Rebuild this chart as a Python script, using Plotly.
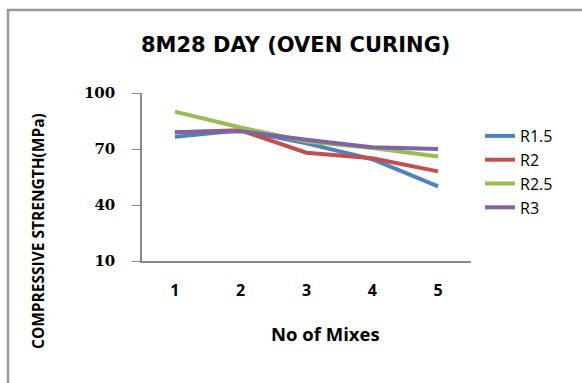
import plotly.graph_objects as go

mixes = [1, 2, 3, 4, 5]
r15 = [76.5, 80, 73, 64.5, 50]
r2 = [79, 80, 68, 65, 58]
r25 = [90, 81.5, 74, 70.5, 66]
r3 = [79, 79.5, 75, 71, 70]
series = [("R1.5", r15, "#4F81BD"), ("R2", r2, "#C0504D"),
          ("R2.5", r25, "#9BBB59"), ("R3", r3, "#8064A2")]
yticks = [10, 40, 70, 100]

fig = go.Figure()
for name, vals, col in series:
    fig.add_trace(go.Scatter(x=mixes, y=vals, name=name, mode="lines",
                             line=dict(color=col, width=4)))

W, H = 582, 383
L, R, T, B = 142, 471, 93, 261
PW, PH = R - L, B - T


def px(x):
    return (x - L) / PW


def py(y):
    return (B - y) / PH


fig.update_layout(
    width=W, height=H,
    margin=dict(l=L, r=W - R, t=T, b=H - B),
    paper_bgcolor="white", plot_bgcolor="white",
    showlegend=True,
    legend=dict(x=px(480), xanchor="left", y=py(119), yanchor="top",
                font=dict(family="Open Sans", size=16, color="#000"),
                tracegroupgap=0, itemwidth=30, bgcolor="rgba(0,0,0,0)"),
    xaxis=dict(range=[0.5, 5.5], tickvals=mixes, ticktext=[str(m) for m in mixes],
               showgrid=False, zeroline=False, showline=True, linecolor="#8a8a8a",
               linewidth=1.5, ticks="", ticklabelstandoff=14,
               tickfont=dict(family="Open Sans", size=16, color="#000", weight="bold")),
    yaxis=dict(range=[10, 100], tickvals=yticks, showgrid=False, zeroline=False,
               showline=True, linecolor="#8a8a8a", linewidth=1.5, ticks="outside",
               ticklen=8, tickcolor="#8a8a8a", ticklabelstandoff=14,
               tickfont=dict(family="DejaVu Serif", size=15, color="#000", weight="bold")),
    annotations=[
        dict(text="<b>8M28 DAY (OVEN CURING)</b>", xref="paper", yref="paper",
             x=px(295), y=py(45), xanchor="center", yanchor="middle", showarrow=False,
             font=dict(family="DejaVu Sans", size=21, color="#000")),
        dict(text="<b>No of Mixes</b>", xref="paper", yref="paper",
             x=px(325), y=py(333), xanchor="center", yanchor="middle", showarrow=False,
             font=dict(family="Open Sans", size=18.5, color="#000")),
        dict(text="<b>COMPRESSIVE STRENGTH(MPa)</b>", xref="paper", yref="paper",
             x=px(38), y=py(231), xanchor="center", yanchor="middle", showarrow=False,
             textangle=-90,
             font=dict(family="Open Sans", size=15.5, color="#000")),
    ],
    shapes=[dict(type="rect", xref="paper", yref="paper",
                 x0=px(8), x1=px(700), y0=py(500), y1=py(10),
                 line=dict(color="#9a9a9a", width=2.5), layer="below")],
)
fig.write_html("out.html")
